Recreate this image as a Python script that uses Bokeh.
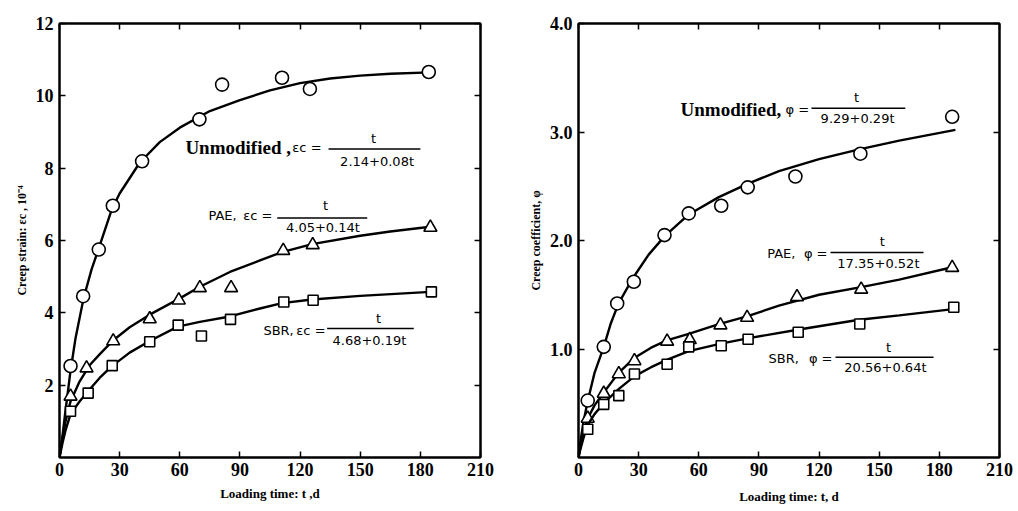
from bokeh.plotting import figure
from bokeh.layouts import row
from bokeh.models import FixedTicker, LinearAxis, Range1d, PrintfTickFormatter
from bokeh.core.properties import value
from bokeh.embed import file_html
from bokeh.resources import INLINE

# ---------------- data: left panel (creep strain, 10^-4) ----------------
x_ticks = [0, 30, 60, 90, 120, 150, 180, 210]
strain_ticks = [2, 4, 6, 8, 10, 12]
coef_ticks = [1.0, 2.0, 3.0, 4.0]

strain_days_unmod = [5.5, 11.8, 19.6, 26.6, 41.2, 69.8, 81.1, 111.0, 124.9, 184.2]
strain_unmod = [2.53, 4.46, 5.75, 6.96, 8.19, 9.35, 10.31, 10.50, 10.19, 10.66]
strain_days_pae = [5.5, 13.5, 26.8, 45.0, 59.5, 70.0, 85.6, 111.6, 126.3, 185.0]
strain_pae = [1.69, 2.47, 3.22, 3.83, 4.35, 4.69, 4.69, 5.72, 5.88, 6.36]
strain_days_sbr = [5.5, 14.3, 26.3, 45.0, 59.2, 70.8, 85.3, 111.9, 126.5, 185.5]
strain_sbr = [1.28, 1.78, 2.54, 3.20, 3.66, 3.36, 3.82, 4.30, 4.35, 4.58]

# fitted curves
strain_curve_t_unmod = [0, 1.5, 3, 5.5, 8, 12, 16, 20, 26, 30, 40, 50, 60, 75, 90, 105, 120, 135, 150, 165, 185]
strain_curve_unmod = [0, 0.6, 1.3, 2.4, 3.3, 4.4, 5.2, 5.85, 6.85, 7.3, 8.15, 8.72, 9.12, 9.58, 9.88, 10.15, 10.35, 10.48, 10.56, 10.61, 10.65]
strain_curve_t_pae = [0, 1.5, 3, 5.5, 10, 15, 20, 27, 35, 45, 60, 70, 85, 100, 111, 126, 150, 165, 185]
strain_curve_pae = [0, 0.55, 1.0, 1.55, 2.1, 2.55, 2.85, 3.25, 3.6, 3.95, 4.4, 4.72, 5.13, 5.45, 5.68, 5.9, 6.13, 6.25, 6.38]
strain_curve_t_sbr = [0, 1.5, 3, 5.5, 10, 15, 20, 26, 35, 45, 59, 70, 85, 100, 111, 126, 150, 185]
strain_curve_sbr = [0, 0.4, 0.75, 1.2, 1.55, 1.88, 2.2, 2.52, 2.9, 3.22, 3.62, 3.75, 3.9, 4.12, 4.27, 4.37, 4.47, 4.58]

# ---------------- data: right panel (creep coefficient) ----------------
coef_days_unmod = [4.6, 12.6, 19.3, 27.6, 42.9, 55.0, 71.2, 84.4, 108.2, 140.6, 186.4]
coef_unmod = [0.525, 1.02, 1.42, 1.62, 2.05, 2.25, 2.32, 2.49, 2.59, 2.80, 3.14]
coef_days_pae = [4.6, 12.6, 20.1, 27.9, 44.2, 55.5, 70.8, 84.1, 109.0, 141.0, 186.4]
coef_pae = [0.36, 0.59, 0.77, 0.89, 1.07, 1.085, 1.22, 1.29, 1.48, 1.55, 1.75]
coef_days_sbr = [4.6, 12.6, 20.1, 27.9, 44.2, 55.0, 71.2, 84.6, 109.6, 140.3, 187.2]
coef_sbr = [0.26, 0.49, 0.57, 0.77, 0.86, 1.02, 1.03, 1.09, 1.155, 1.23, 1.385]

coef_curve_t_unmod = [0, 1, 2.5, 4.6, 8, 12.6, 16, 20, 27, 35, 43, 55, 70, 84, 100, 120, 140, 160, 188]
coef_curve_unmod = [0, 0.15, 0.33, 0.52, 0.78, 1.02, 1.23, 1.42, 1.65, 1.87, 2.04, 2.24, 2.4, 2.52, 2.64, 2.75, 2.84, 2.92, 3.02]
coef_curve_t_pae = [0, 1, 2.5, 4.6, 8, 12.6, 20, 28, 36, 44, 55, 70, 84, 100, 120, 141, 160, 188]
coef_curve_pae = [0, 0.1, 0.22, 0.36, 0.48, 0.6, 0.78, 0.92, 1.01, 1.08, 1.14, 1.23, 1.3, 1.4, 1.5, 1.57, 1.64, 1.76]
coef_curve_t_sbr = [0, 1, 2.5, 4.6, 8, 12.6, 20, 28, 36, 44, 55, 71, 85, 110, 140, 160, 188]
coef_curve_sbr = [0, 0.08, 0.18, 0.3, 0.4, 0.5, 0.63, 0.75, 0.83, 0.9, 0.98, 1.05, 1.1, 1.18, 1.27, 1.31, 1.37]

# ---------------- annotation texts ----------------
left_names = ["Unmodified ,", "PAE,", "SBR,"]
left_symbol = "\u03b5c ="
left_denoms = ["2.14+0.08t", "4.05+0.14t", "4.68+0.19t"]
right_names = ["Unmodified,", "PAE,", "SBR,"]
right_symbol = "\u03c6 ="
right_denoms = ["9.29+0.29t", "17.35+0.52t", "20.56+0.64t"]

# annotation anchor positions (data units)
left_name_x = [62.8, 74.3, 101.7]
left_name_y = [8.57, 6.69, 3.52]
left_sym_x = [130.7, 106.2, 132.7]
left_bar_x0 = [134.2, 108.6, 133.5]
left_bar_x1 = [180.0, 153.5, 176.7]
left_bar_y = [8.53, 6.62, 3.57]
left_num_x = [156.6, 132.7, 159.1]
left_num_y = [8.62, 6.75, 3.64]
left_den_x = [158.4, 131.4, 154.6]
left_den_y = [8.40, 6.56, 3.45]

right_name_x = [50.9, 94.1, 94.8]
right_name_y = [3.21, 1.88, 0.912]
right_sym_x = [115.0, 124.2, 126.7]
right_bar_x0 = [116.2, 125.7, 128.2]
right_bar_x1 = [163.0, 172.1, 177.1]
right_bar_y = [3.22, 1.89, 0.924]
right_num_x = [138.7, 151.5, 154.6]
right_num_y = [3.25, 1.92, 0.949]
right_den_x = [139.2, 149.6, 153.1]
right_den_y = [3.197, 1.857, 0.899]

SERIF = "Liberation Serif"
SANS = "DejaVu Sans"


def make_fig(width, bl, br, bb, title_standoff, ymax, yticks, ylabel, xlabel, yfmt=None):
    p = figure(width=width, height=511, x_range=Range1d(0, 210), y_range=Range1d(0, ymax),
               output_backend="svg", toolbar_location=None,
               min_border_left=bl, min_border_right=br, min_border_top=23, min_border_bottom=bb)
    p.grid.visible = False
    p.outline_line_color = "black"
    p.outline_line_width = 2
    p.background_fill_color = "white"
    p.border_fill_color = "white"

    for ax in (p.xaxis[0], p.yaxis[0]):
        ax.axis_line_width = 2
        ax.major_tick_in = 6
        ax.major_tick_out = 0
        ax.major_tick_line_width = 1.5
        ax.minor_tick_line_color = None
        ax.major_label_text_font = SERIF
        ax.major_label_text_font_style = "bold"
        ax.major_label_text_font_size = "18px"
        ax.major_label_text_color = "black"
        ax.axis_label_text_font = SERIF
        ax.axis_label_text_font_style = "bold"
        ax.axis_label_text_color = "black"
    p.xaxis.ticker = FixedTicker(ticks=x_ticks)
    p.yaxis.ticker = FixedTicker(ticks=yticks)
    if yfmt:
        p.yaxis.formatter = PrintfTickFormatter(format=yfmt)
    p.xaxis.major_label_standoff = 5
    p.yaxis.major_label_standoff = 6
    p.xaxis.axis_label = xlabel
    p.yaxis.axis_label = ylabel
    p.xaxis.axis_label_text_font_size = "13px"
    p.yaxis.axis_label_text_font_size = "12px"
    p.xaxis.axis_label_standoff = title_standoff
    p.yaxis.axis_label_standoff = 4

    top = LinearAxis(ticker=FixedTicker(ticks=x_ticks), major_tick_in=6, major_tick_out=0,
                     major_tick_line_width=1.5, minor_tick_line_color=None, axis_line_width=2,
                     major_label_text_font_size="1px", major_label_text_color=None,
                     major_label_standoff=0)
    right = LinearAxis(ticker=FixedTicker(ticks=yticks), major_tick_in=6, major_tick_out=0,
                       major_tick_line_width=1.5, minor_tick_line_color=None, axis_line_width=2,
                       major_label_text_font_size="1px", major_label_text_color=None,
                       major_label_standoff=0)
    p.add_layout(top, "above")
    p.add_layout(right, "right")
    return p


def add_series(p, ct, cv, mt, mv, marker, size):
    p.line(ct, cv, line_color="black", line_width=2.4)
    p.scatter(mt, mv, marker=marker, size=size, line_color="black", line_width=1.6,
              fill_color="white")


def add_annotations(p, names, name_fonts, name_sizes, name_styles, name_x, name_y,
                    symbol, sym_x, bar_x0, bar_x1, bar_y, num_x, num_y, denoms, den_x, den_y):
    for i in range(len(names)):
        p.text(x=[name_x[i]], y=[name_y[i]], text=[names[i]], text_font=value(name_fonts[i]),
               text_font_size=name_sizes[i], text_font_style=name_styles[i],
               text_align="left", text_baseline="middle", text_color="black")
        p.text(x=[sym_x[i]], y=[name_y[i]], text=[symbol], text_font=value(SANS),
               text_font_size="13px", text_align="right", text_baseline="middle",
               text_color="black")
    p.segment(x0=bar_x0, y0=bar_y, x1=bar_x1, y1=bar_y, line_color="black", line_width=1.5)
    p.text(x=num_x, y=num_y, text=["t"] * len(num_x), text_font=value(SANS),
           text_font_size="13px", text_align="center", text_baseline="bottom", text_color="black")
    p.text(x=den_x, y=den_y, text=denoms, text_font=value(SANS),
           text_font_size="13px", text_align="center", text_baseline="top", text_color="black")


# ---------- left figure ----------
p1 = make_fig(500, 59, 20, 51, 7, 12, strain_ticks,
              "Creep strain: \u03b5c , 10\u207b\u2074", "Loading time: t ,d")
add_series(p1, strain_curve_t_unmod, strain_curve_unmod, strain_days_unmod, strain_unmod, "circle", 13)
add_series(p1, strain_curve_t_pae, strain_curve_pae, strain_days_pae, strain_pae, "triangle", 13)
add_series(p1, strain_curve_t_sbr, strain_curve_sbr, strain_days_sbr, strain_sbr, "square", 10)
add_annotations(p1, left_names, [SERIF, SANS, SANS], ["19px", "13px", "13px"],
                ["bold", "normal", "normal"], left_name_x, left_name_y, left_symbol, left_sym_x,
                left_bar_x0, left_bar_x1, left_bar_y, left_num_x, left_num_y,
                left_denoms, left_den_x, left_den_y)

# ---------- right figure ----------
p2 = make_fig(518, 78, 19, 54, 10, 4, coef_ticks,
              "Creep coefficient, \u03c6", "Loading time: t, d", yfmt="%.1f")
add_series(p2, coef_curve_t_unmod, coef_curve_unmod, coef_days_unmod, coef_unmod, "circle", 13)
add_series(p2, coef_curve_t_pae, coef_curve_pae, coef_days_pae, coef_pae, "triangle", 13)
add_series(p2, coef_curve_t_sbr, coef_curve_sbr, coef_days_sbr, coef_sbr, "square", 10)
add_annotations(p2, right_names, [SERIF, SANS, SANS], ["19px", "13px", "13px"],
                ["bold", "normal", "normal"], right_name_x, right_name_y, right_symbol, right_sym_x,
                right_bar_x0, right_bar_x1, right_bar_y, right_num_x, right_num_y,
                right_denoms, right_den_x, right_den_y)

layout = row(p1, p2)
open("out.html", "w").write(file_html(layout, INLINE))
